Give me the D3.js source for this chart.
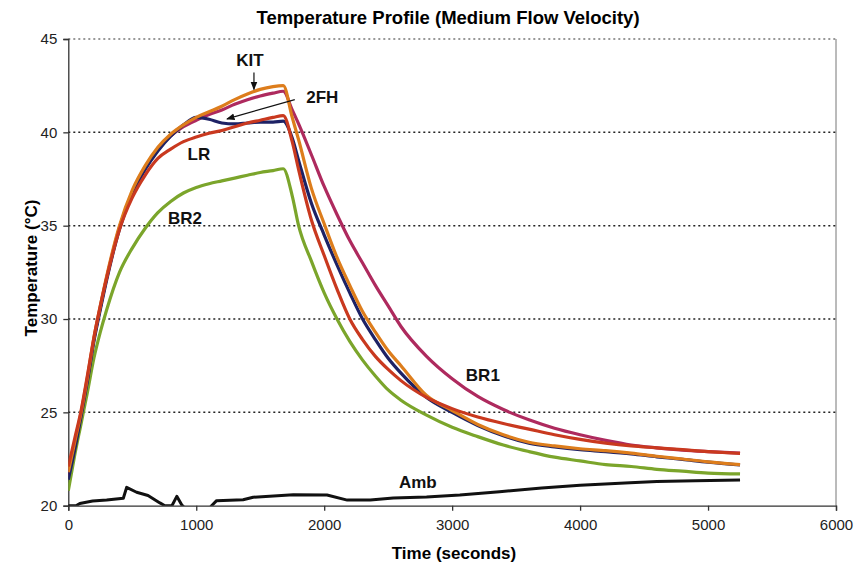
<!DOCTYPE html>
<html>
<head>
<meta charset="utf-8">
<script src="https://cdn.jsdelivr.net/npm/d3@7/dist/d3.min.js"></script>
<style>
  body { margin: 0; background: #fff; }
  svg { display: block; font-family: Arial, "Liberation Sans", sans-serif; }
  .tick-label { font-size: 15px; fill: #222; }
  .title { font-size: 17px; font-weight: bold; fill: #000; }
  .main-title { font-size: 18.5px; font-weight: bold; fill: #000; }
  .note { font-size: 17px; font-weight: bold; fill: #111; }
</style>
</head>
<body>
<svg id="chart"></svg>
<script>
// time axis (seconds), shared by the five probe series
var times = [0, 50, 100, 150, 200, 250, 300, 400, 500, 600, 700, 800, 900, 1000, 1100, 1200, 1300, 1400, 1500, 1600, 1680,
    1750, 1800, 1900, 2000, 2100, 2200, 2300, 2400, 2500, 2600, 2800, 3000, 3200, 3400, 3600, 3800, 4000, 4200, 4400, 4600, 4800, 5000, 5250];

var br2 = [20.8, 22.7, 24.4, 26.1, 27.9, 29.3, 30.5, 32.5, 33.8, 34.85, 35.7, 36.3, 36.75, 37.05, 37.25, 37.4, 37.55, 37.7, 37.85, 37.95, 38.05,
    36.6, 35.0, 33.1, 31.4, 30.0, 28.8, 27.8, 26.95, 26.2, 25.65, 24.85, 24.2, 23.7, 23.25, 22.9, 22.6, 22.4, 22.2, 22.1, 21.95, 21.85, 21.75, 21.7];
var br1 = [21.6, 23.2, 24.9, 26.8, 28.9, 30.6, 32.2, 34.9, 36.8, 38.1, 39.1, 39.8, 40.3, 40.65, 40.95, 41.2, 41.5, 41.75, 41.95, 42.1, 42.2,
    41.2, 40.45, 38.8, 37.1, 35.6, 34.2, 33.0, 31.8, 30.7, 29.6, 28.0, 26.8, 25.85, 25.15, 24.6, 24.15, 23.8, 23.5, 23.25, 23.1, 22.98, 22.9, 22.82];
var fh2 = [21.4, 23.0, 24.8, 26.7, 28.8, 30.5, 32.1, 34.8, 36.7, 38.0, 39.0, 39.8, 40.4, 40.8, 40.7, 40.5, 40.45, 40.5, 40.55, 40.55, 40.6,
    39.7, 38.5, 36.2, 34.5, 32.9, 31.4, 30.0, 28.9, 27.9, 27.1, 25.8, 25.0, 24.3, 23.75, 23.35, 23.15, 23.0, 22.9, 22.78, 22.62, 22.48, 22.33, 22.18];
var kit = [21.8, 23.4, 25.0, 26.9, 29.0, 30.7, 32.3, 35.0, 36.9, 38.2, 39.2, 39.9, 40.4, 40.8, 41.1, 41.4, 41.75, 42.05, 42.3, 42.45, 42.5,
    40.8, 39.6, 37.0, 35.1, 33.3, 31.8, 30.4, 29.3, 28.3, 27.5, 25.9, 25.1, 24.35, 23.8, 23.4, 23.2, 23.05, 22.95, 22.82, 22.65, 22.5, 22.35, 22.2];
var lr = [22.1, 23.6, 25.1, 27.0, 29.0, 30.7, 32.2, 34.8, 36.5, 37.7, 38.6, 39.1, 39.5, 39.75, 39.95, 40.1, 40.3, 40.5, 40.65, 40.8, 40.9,
    39.5, 38.0, 35.3, 33.4, 31.6, 30.0, 28.9, 28.0, 27.3, 26.7, 25.8, 25.2, 24.75, 24.4, 24.1, 23.8, 23.55, 23.35, 23.2, 23.1, 23.0, 22.9, 22.8];

// ambient reading has its own sampling
var ambTimes = [0, 60, 90, 190, 300, 430, 456, 534, 623, 716, 755, 810, 848, 886, 920, 1100, 1120, 1159, 1366, 1445, 1758, 2022, 2180,
    2360, 2540, 2800, 3060, 3370, 3700, 4000, 4390, 4600, 4900, 5250];
var amb = [20.0, 20.0, 20.12, 20.25, 20.3, 20.4, 20.98, 20.72, 20.55, 20.15, 20.0, 20.0, 20.5, 20.05, 19.8, 19.8, 20.0, 20.27, 20.32, 20.45,
    20.59, 20.57, 20.3, 20.3, 20.41, 20.46, 20.57, 20.75, 20.95, 21.1, 21.23, 21.3, 21.33, 21.38];

var xTicks = [0, 1000, 2000, 3000, 4000, 5000, 6000];
var yTicks = [20, 25, 30, 35, 40, 45];
var gridValues = [25, 30, 35, 40, 45];

var width = 857, height = 568;
var svg = d3.select("#chart").attr("width", width).attr("height", height);

var x = d3.scaleLinear().domain([0, 6000]).range([68.3, 836]);
var y = d3.scaleLinear().domain([20, 45]).range([505.7, 39]);

svg.append("defs").append("clipPath").attr("id", "plot")
    .append("rect")
    .attr("x", x(0)).attr("y", y(45))
    .attr("width", x(6000) - x(0)).attr("height", y(20) - y(45));

// arrowhead for the label pointers
svg.select("defs").append("marker")
    .attr("id", "arrow")
    .attr("viewBox", "0 0 10 10")
    .attr("refX", 9).attr("refY", 5)
    .attr("markerWidth", 7).attr("markerHeight", 7)
    .attr("orient", "auto")
    .append("path").attr("d", "M0,1 L10,5 L0,9 Z").attr("fill", "#111");

// right border of plot area
svg.append("line")
    .attr("x1", x(6000)).attr("x2", x(6000))
    .attr("y1", y(45)).attr("y2", y(20))
    .style("stroke", "#777").style("stroke-width", 1);

// dotted gridlines
svg.append("g").selectAll("line")
    .data(gridValues)
    .enter().append("line")
    .attr("x1", x(0)).attr("x2", x(6000))
    .attr("y1", function(d) { return y(d); })
    .attr("y2", function(d) { return y(d); })
    .style("stroke", function(d) { return d == 45 ? "#777" : "#222"; })
    .style("stroke-width", 1.5)
    .style("stroke-dasharray", "2,3");

// axes
var xAxis = d3.axisBottom(x).tickValues(xTicks).tickSize(5).tickPadding(9).tickFormat(d3.format("d"));
var yAxis = d3.axisLeft(y).tickValues(yTicks).tickSize(5).tickPadding(6).tickFormat(d3.format("d"));

var gx = svg.append("g").attr("transform", "translate(0," + y(20) + ")").call(xAxis);
var gy = svg.append("g").attr("transform", "translate(" + x(0) + ",0)").call(yAxis);

[gx, gy].forEach(function(g) {
    g.attr("font-size", null).attr("font-family", null);
    g.select(".domain").style("stroke", "#333").style("stroke-width", 1.3);
    g.selectAll(".tick line").style("stroke", "#333").style("stroke-width", 1.3);
    g.selectAll(".tick text").attr("class", "tick-label");
});

// series
var line = d3.line()
    .x(function(d) { return x(d[0]); })
    .y(function(d) { return y(d[1]); })
    .curve(d3.curveMonotoneX);

var ambLine = d3.line()
    .x(function(d) { return x(d[0]); })
    .y(function(d) { return y(d[1]); });

function pairs(ts, vs) {
    return ts.map(function(t, i) { return [t, vs[i]]; });
}

var series = [
    { name: "BR2", values: br2, color: "#7ba52b" },
    { name: "BR1", values: br1, color: "#ae2a5e" },
    { name: "2FH", values: fh2, color: "#1e2265" },
    { name: "KIT", values: kit, color: "#dd7d1c" },
    { name: "LR",  values: lr,  color: "#c9391f" }
];

var lines = svg.append("g").attr("clip-path", "url(#plot)");

lines.selectAll("path.probe")
    .data(series)
    .enter().append("path")
    .attr("class", "probe")
    .attr("d", function(d) { return line(pairs(times, d.values)); })
    .style("fill", "none")
    .style("stroke", function(d) { return d.color; })
    .style("stroke-width", 3.2)
    .style("stroke-linejoin", "round");

lines.append("path")
    .attr("d", ambLine(pairs(ambTimes, amb)))
    .style("fill", "none")
    .style("stroke", "#111")
    .style("stroke-width", 3)
    .style("stroke-linejoin", "round");

// labels (placed in data coordinates)
var notes = [
    { text: "KIT", t: 1420, v: 43.88 },
    { text: "2FH", t: 1985, v: 41.89 },
    { text: "LR",  t: 1021, v: 38.84 },
    { text: "BR2", t: 912,  v: 35.41 },
    { text: "BR1", t: 3240, v: 27.0 },
    { text: "Amb", t: 2732, v: 21.27 }
];

svg.append("g").selectAll("text")
    .data(notes)
    .enter().append("text")
    .attr("class", "note")
    .attr("x", function(d) { return x(d.t); })
    .attr("y", function(d) { return y(d.v); })
    .attr("dy", "0.36em")
    .attr("text-anchor", "middle")
    .text(function(d) { return d.text; });

var pointers = [
    { t1: 1451, v1: 43.2, t2: 1451, v2: 42.3 },
    { t1: 1770, v1: 41.75, t2: 1240, v2: 40.72 }
];

svg.append("g").selectAll("line")
    .data(pointers)
    .enter().append("line")
    .attr("x1", function(d) { return x(d.t1); })
    .attr("y1", function(d) { return y(d.v1); })
    .attr("x2", function(d) { return x(d.t2); })
    .attr("y2", function(d) { return y(d.v2); })
    .style("stroke", "#111")
    .style("stroke-width", 1.2)
    .attr("marker-end", "url(#arrow)");

// titles
svg.append("text")
    .attr("class", "main-title")
    .attr("x", 448).attr("y", 24)
    .attr("text-anchor", "middle")
    .text("Temperature Profile (Medium Flow Velocity)");

svg.append("text")
    .attr("class", "title")
    .attr("x", 454).attr("y", 559)
    .attr("text-anchor", "middle")
    .text("Time (seconds)");

svg.append("text")
    .attr("class", "title")
    .attr("transform", "translate(37,268) rotate(-90)")
    .attr("text-anchor", "middle")
    .text("Temperature (°C)");
</script>
</body>
</html>
